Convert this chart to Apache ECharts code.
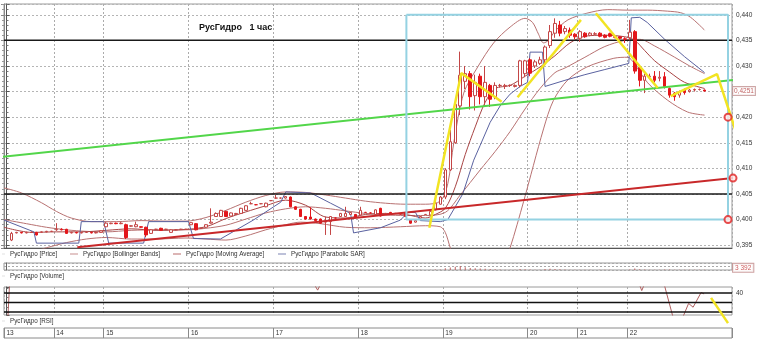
<!DOCTYPE html>
<html><head><meta charset="utf-8">
<script src="https://cdn.jsdelivr.net/npm/echarts@6/dist/echarts.min.js"></script>
<style>html,body{margin:0;padding:0;background:#fff}#c{width:758px;height:341px}</style>
</head><body><div id="c"></div><script>
// ---------- tick / category labels ----------
const dayLabels = ['13','14','15','16','17','18','19','20','21','22'];
const emptySlots = 5;
// ---------- candles: [open, close, low, high] per hour, one array per day ----------
const day13 = ['-',
 [0.3960,0.3973,0.3958,0.3976],[0.3974,0.3975,0.3973,0.3976],[0.3975,0.3974,0.3973,0.3976],
 [0.3974,0.3975,0.3973,0.3976],[0.3975,0.3975,0.3974,0.3977],[0.3975,0.3970,0.3969,0.3976],
 [0.3975,0.3976,0.3974,0.3977],[0.3976,0.3977,0.3975,0.3978],[0.3977,0.3977,0.3976,0.3978]];
const day14 = [
 [0.3980,0.3981,0.3978,0.3993],[0.3981,0.3980,0.3979,0.3983],[0.3981,0.3973,0.3972,0.3982],
 [0.3974,0.3975,0.3973,0.3976],[0.3975,0.3974,0.3973,0.3976],[0.3974,0.3975,0.3973,0.3976],
 [0.3975,0.3975,0.3974,0.3977],[0.3975,0.3974,0.3973,0.3976],[0.3974,0.3975,0.3973,0.3976],
 [0.3975,0.3978,0.3974,0.3979]];
const day15 = [
 [0.3986,0.3993,0.3985,0.3995],[0.3992,0.3993,0.3991,0.3994],[0.3993,0.3992,0.3991,0.3994],
 [0.3992,0.3993,0.3991,0.3995],[0.3990,0.3965,0.3962,0.3992],[0.3987,0.3988,0.3986,0.3989],
 [0.3986,0.3990,0.3985,0.3996],[0.3986,0.3985,0.3984,0.3987],[0.3985,0.3970,0.3966,0.3986],
 [0.3973,0.3980,0.3972,0.3981],[0.3981,0.3981,0.3980,0.3982],[0.3983,0.3979,0.3978,0.3984],
 [0.3981,0.3981,0.3980,0.3982],[0.3975,0.3980,0.3974,0.3981],[0.3980,0.3980,0.3979,0.3981],
 [0.3981,0.3981,0.3980,0.3982],[0.3981,0.3981,0.3980,0.3982]];
const day16 = [
 [0.3990,0.3994,0.3989,0.3995],[0.3992,0.3980,0.3979,0.3993],[0.3983,0.3983,0.3982,0.3984],
 [0.3985,0.3990,0.3984,0.3991],[0.3993,0.3995,0.3992,0.4022],[0.4006,0.4012,0.4005,0.4014],
 [0.4006,0.4018,0.4005,0.4019],[0.4016,0.4006,0.4005,0.4017],[0.4007,0.4013,0.4006,0.4014],
 [0.4010,0.4012,0.4009,0.4013],[0.4012,0.4022,0.4011,0.4023],[0.4018,0.4027,0.4017,0.4028],
 [0.4031,0.4031,0.4030,0.4035],[0.4029,0.4029,0.4028,0.4030],[0.4031,0.4031,0.4030,0.4032],
 [0.4025,0.4032,0.4024,0.4033],[0.4037,0.4037,0.4036,0.4038]];
const day17 = [
 [0.4042,0.4042,0.4041,0.4048],[0.4042,0.4042,0.4041,0.4043],[0.4042,0.4045,0.4041,0.4046],
 [0.4044,0.4025,0.4024,0.4045],[0.4025,0.4020,0.4019,0.4026],[0.4020,0.4006,0.4005,0.4021],
 [0.4006,0.4001,0.4000,0.4007],[0.4005,0.4001,0.4000,0.4024],[0.4001,0.3998,0.3997,0.4002],
 [0.4001,0.3993,0.3992,0.4002],[0.3995,0.3997,0.3970,0.4006],[0.3996,0.4006,0.3970,0.4007],
 [0.4003,0.4003,0.4002,0.4004],[0.4006,0.4012,0.4005,0.4013],[0.4006,0.4012,0.4005,0.4025],
 [0.4010,0.4014,0.4009,0.4015],[0.4010,0.4004,0.4003,0.4011]];
const day18 = [
 [0.4009,0.4018,0.4008,0.4025],[0.4014,0.4014,0.4013,0.4015],[0.4013,0.4013,0.4012,0.4014],
 [0.4010,0.4019,0.4009,0.4020],[0.4022,0.4007,0.4006,0.4023],[0.4010,0.4012,0.4009,0.4013],
 [0.4014,0.4010,0.4009,0.4015],[0.4012,0.4012,0.4011,0.4013],[0.4011,0.4011,0.4010,0.4012],
 [0.4014,0.4006,0.4005,0.4015],[0.3999,0.3993,0.3992,0.4000],[0.3995,0.3998,0.3994,0.3999],
 [0.4003,0.4006,0.4002,0.4007],[0.4010,0.4010,0.4009,0.4011],[0.4009,0.4016,0.4008,0.4017],
 [0.4019,0.4032,0.4018,0.4038],[0.4030,0.4044,0.4029,0.4046]];
const day19 = [
 [0.4044,0.4097,0.4040,0.4100],[0.4097,0.4152,0.4095,0.4175],[0.4150,0.4225,0.4148,0.4239],
 [0.4222,0.4282,0.4204,0.4328],[0.4270,0.4285,0.4255,0.4300],[0.4285,0.4240,0.4215,0.4290],
 [0.4242,0.4268,0.4213,0.4283],[0.4280,0.4240,0.4225,0.4285],[0.4240,0.4268,0.4222,0.4300],
 [0.4262,0.4235,0.4220,0.4265],[0.4240,0.4262,0.4235,0.4268],[0.4262,0.4262,0.4258,0.4265],
 [0.4260,0.4262,0.4255,0.4265],[0.4262,0.4262,0.4259,0.4264],[0.4260,0.4262,0.4258,0.4264],
 [0.4262,0.4310,0.4258,0.4312],[0.4285,0.4310,0.4278,0.4312]];
const day20 = [
 [0.4312,0.4286,0.4280,0.4315],[0.4300,0.4308,0.4296,0.4312],[0.4305,0.4312,0.4302,0.4318],
 [0.4312,0.4337,0.4300,0.4340],[0.4340,0.4367,0.4335,0.4380],[0.4364,0.4383,0.4355,0.4393],
 [0.4380,0.4364,0.4358,0.4388],[0.4367,0.4373,0.4362,0.4378],[0.4370,0.4360,0.4355,0.4375],
 [0.4362,0.4357,0.4352,0.4364]];
const day21 = [
 [0.4354,0.4367,0.4347,0.4370],[0.4364,0.4357,0.4355,0.4366],[0.4360,0.4364,0.4358,0.4366],
 [0.4362,0.4363,0.4360,0.4366],[0.4364,0.4358,0.4356,0.4366],[0.4360,0.4356,0.4354,0.4362],
 [0.4363,0.4358,0.4356,0.4365],[0.4357,0.4356,0.4354,0.4358],[0.4357,0.4354,0.4352,0.4358],
 [0.4353,0.4352,0.4345,0.4356]];
const day22 = [
 [0.4355,0.4366,0.4350,0.4390],[0.4367,0.4290,0.4285,0.4370],[0.4297,0.4272,0.4260,0.4300],
 [0.4272,0.4280,0.4247,0.4285],[0.4279,0.4280,0.4275,0.4285],[0.4280,0.4272,0.4268,0.4290],
 [0.4276,0.4278,0.4270,0.4290],[0.4279,0.4260,0.4256,0.4288],[0.4256,0.4243,0.4238,0.4258],
 [0.4247,0.4240,0.4232,0.4249],[0.4243,0.4250,0.4238,0.4252],[0.4254,0.4248,0.4244,0.4256],
 [0.4250,0.4253,0.4248,0.4255],[0.4253,0.4254,0.4250,0.4256],[0.4254,0.4254,0.4252,0.4256],
 [0.4253,0.4251,0.4250,0.4254]];
const lastPrice = 0.4251;
// ---------- volume per hour ----------
const volumes = [
 0,2100,1500,1200,900,1100,2500,1300,1000,900,
 3500,1800,2600,1200,900,1000,800,900,1100,1400,
 4200,1500,1200,1000,6500,1800,2500,1200,5200,2600,1300,1700,1100,1900,900,800,1000,
 3800,4600,1300,2200,7200,5600,4800,3900,2700,1500,4100,3600,2200,1400,1200,2300,1600,
 5200,2100,2600,9800,4500,7600,3200,5100,2100,4300,6900,5800,1800,3100,3300,1500,2800,
 3600,1700,1300,2900,5400,1600,2200,1200,1100,3600,4900,2100,3300,1700,3100,8200,9500,
 38000,52000,71000,88000,61000,42000,36000,33000,29000,22000,15000,9000,6000,5000,4000,21000,14000,
 12000,8000,7500,19000,26000,24000,15000,9000,7000,5000,
 6000,4000,3500,2500,3000,2800,3200,2600,2400,2200,
 9000,34000,18000,12000,5000,6000,4000,9000,11000,8000,6000,5000,4000,3800,3500,3392];
const lastVolume = 3392;
// ---------- indicators: [candle index, value] ----------
const bbUpper = [[-0.5,0.4062],[3,0.4052],[7,0.4033],[10,0.4016],[13,0.4003],[17,0.3996],[22,0.3996],[27,0.3998],[32,0.3997],[36,0.3997],[40,0.4004],[44,0.4018],[48,0.4034],[52,0.4047],[56,0.4054],[60,0.4053],[64,0.4048],[68,0.4042],[72,0.4036],[76,0.4032],[80,0.4030],[84,0.4030],[87,0.4036],[88.5,0.4070],[89.7,0.4150],[91.7,0.4247],[94.5,0.4298],[97.7,0.4345],[101,0.4376],[104,0.4393],[105.5,0.4385],[106.7,0.4362],[107.7,0.4345],[108.7,0.4350],[110,0.4368],[112.6,0.4390],[116.4,0.4403],[120.6,0.4410],[124.6,0.4409],[128.6,0.4409],[132.6,0.4407],[135.2,0.4404],[137.2,0.4395],[140,0.4370]];
const bbMiddle = [[-0.5,0.4000],[4,0.3992],[8,0.3985],[12,0.3980],[16,0.3977],[20,0.3976],[25,0.3979],[30,0.3980],[36,0.3980],[40,0.3983],[44,0.3989],[48,0.4001],[52,0.4013],[56,0.4021],[60,0.4025],[64,0.4022],[68,0.4017],[72,0.4012],[76,0.4009],[80,0.4008],[84,0.4008],[88,0.4014],[91,0.4048],[95,0.4097],[98,0.4133],[101,0.4172],[104,0.4216],[107,0.4256],[110,0.4287],[112,0.4296],[116,0.4317],[120,0.4338],[124,0.4350],[127,0.4352],[130,0.4339],[134,0.4317],[137,0.4300],[140,0.4285]];
const bbLower = [[-0.5,0.3938],[4,0.3935],[8,0.3945],[12,0.3955],[16,0.3962],[20,0.3965],[25,0.3962],[30,0.3962],[36,0.3964],[40,0.3962],[44,0.3960],[48,0.3968],[52,0.3980],[56,0.3990],[59,0.3995],[63,0.3992],[68,0.3985],[73,0.3984],[79,0.3986],[84,0.3988],[87,0.3986],[88,0.3975],[89,0.3945],[90,0.3920],[92,0.3890],[96,0.3880],[100,0.3925],[101,0.3945],[103.7,0.4035],[107.7,0.4177],[109.7,0.4233],[112.6,0.4273],[116.4,0.4298],[121.8,0.4315],[124.6,0.4317],[125.8,0.4306],[128.6,0.4267],[132.6,0.4233],[136.6,0.4210],[140,0.4204]];
const movingAvg = [[-0.5,0.3985],[5,0.3975],[10,0.3976],[15,0.3976],[20,0.3979],[25,0.3982],[30,0.3979],[35,0.3980],[40,0.3986],[44,0.4002],[48,0.4015],[52,0.4027],[56,0.4038],[60,0.4028],[64,0.4005],[68,0.4003],[72,0.4010],[76,0.4012],[80,0.4010],[84,0.4003],[86,0.4010],[88,0.4022],[90,0.4064],[92,0.4127],[94,0.4181],[96,0.4229],[98,0.4256],[101,0.4262],[104,0.4280],[107,0.4298],[110,0.4320],[113,0.4345],[116,0.4358],[120,0.4360],[124,0.4357],[126,0.4350],[128,0.4330],[130,0.4310],[133,0.4288],[136,0.4268],[140,0.4256]];
const parabolicSar = [[-0.5,0.3999],[5.5,0.3976],[6,0.3954],[14.5,0.3954],[15,0.3996],[19.5,0.3996],[20.5,0.3954],[27.5,0.3954],[28.5,0.3996],[36.5,0.3996],[37.5,0.3963],[42.9,0.3962],[49.5,0.3999],[55,0.4034],[56,0.4054],[61,0.4052],[65,0.4032],[69,0.4012],[69.6,0.3974],[75,0.3984],[79,0.3999],[80.5,0.4014],[82,0.4014],[83,0.3998],[87,0.3996],[88.5,0.4000],[90,0.4025],[91.5,0.4050],[93.7,0.4116],[95,0.4145],[97,0.4190],[99,0.4222],[101,0.4245],[103,0.4260],[104.5,0.4268],[105,0.4327],[107.5,0.4327],[108,0.4260],[112,0.4272],[116,0.4283],[120,0.4293],[124.8,0.4305],[125.3,0.4394],[127,0.4395],[128.5,0.4385],[132,0.4352],[136,0.4318],[140,0.4287]];
const rsi = [[0.2,5],[0.8,70],[60.5,60],[62.4,43],[64,60],[126.5,55],[127.4,42.5],[128.4,55],[131.6,55],[133.7,14],[134.6,12],[135.6,14],[136.8,29],[137.7,25],[139.3,40.5],[139.9,39]];
// ---------- drawn annotations: [candle index, price] ----------
const levels = [0.435, 0.405];
const greenTrend = [[-1.3,0.4122],[147.3,0.4274]];
const redTrend = [[14.2,0.3946],[145.7,0.4081]];
const targetBox = [[80.2,0.4400],[144.7,0.4400],[144.7,0.4000],[80.2,0.4000],[80.2,0.4400]];
const targetMarks = [[144.7,0.4200],[145.7,0.4081],[144.7,0.4000]];
const waveLines = [
 [[84.8,0.3984],[91.2,0.4286],[99.3,0.4230]],
 [[102.5,0.4239],[115.2,0.4390]],
 [[118.2,0.4403],[130.6,0.4257]],
 [[133.2,0.4241],[142.5,0.4284],[149.7,0.4071]]];
const rsiLevels = [40, 30, 20];
const rsiWave = [[141.3,34.9],[144.7,8.2]];

// ---------- build ----------
const days = [day13,day14,day15,day16,day17,day18,day19,day20,day21,day22];
const categories = [], dayStarts = [], candles = [];
days.forEach((d, k) => { dayStarts.push(categories.length); d.forEach((c, j) => { categories.push(dayLabels[k] + '/' + j); candles.push(c); }); });
for (let e = 0; e < emptySlots; e++) { categories.push('e' + e); candles.push('-'); }
const N = categories.length;
const xL = -0.5, xR = N - 0.5;
const volData = volumes.concat(new Array(emptySlots).fill('-'));
const isDayStart = (idx) => dayStarts.indexOf(idx) >= 0;
const yMin = 0.39445, yMax = 0.4421;
const font = 'Liberation Sans, Arial, sans-serif';
const priceFmt = (v) => {
  if (Math.abs(v * 200 - Math.round(v * 200)) > 1e-6) return '';
  if (Math.abs(v - 0.425) < 1e-7) return '';
  return v.toFixed(3).replace('.', ',');
};
const lineSeries = (name, data, color, extra) => Object.assign({
  type: 'line', name: name, xAxisIndex: 1, yAxisIndex: 0, data: data, showSymbol: false, symbol: 'none',
  lineStyle: { color: color, width: 1 }, itemStyle: { color: color }, silent: true, z: 3, animation: false
}, extra || {});
const dash = 'path://M0,0H10V1H0Z';
const legendBase = (left, top, name, small) => ({
  left: left, top: top, padding: 0, itemWidth: small ? 3 : 8, itemHeight: 1, selectedMode: false,
  icon: dash, textStyle: { fontSize: 6.3, color: '#333', fontFamily: font },
  data: [small ? { name: name, itemStyle: { color: '#999', borderColor: '#999', borderWidth: 0 }, lineStyle: { color: '#999' } } : name]
});
const boxLabel = (text, color, border) => ({
  show: true, position: 'right', distance: 1, formatter: text, fontSize: 6.5, color: color, fontFamily: font,
  backgroundColor: '#fff', borderColor: border, borderWidth: 1, padding: [1, 1, 0, 1]
});
const series = [
  { type: 'candlestick', name: 'РусГидро [Price]', xAxisIndex: 0, yAxisIndex: 0, data: candles, barWidth: 3, z: 4,
    itemStyle: { color: '#ffffff', color0: '#e3161b', borderColor: '#c44646', borderColor0: '#e3161b', borderWidth: 1 } },
  lineSeries('РусГидро [Bollinger Bands]', bbUpper, '#b87272', { smooth: 0.3 }),
  lineSeries('РусГидро [Bollinger Bands]', bbMiddle, '#b87272', { smooth: 0.3 }),
  lineSeries('РусГидро [Bollinger Bands]', bbLower, '#b87272', { smooth: 0.3 }),
  lineSeries('РусГидро [Moving Average]', movingAvg, '#a84444', { smooth: 0.3 }),
  lineSeries('РусГидро [Parabolic SAR]', parabolicSar, '#5a62a0')
].concat(levels.map((v, k) => lineSeries('level' + k, [[xL, v], [xR, v]], '#1a1a1a', { lineStyle: { color: '#1a1a1a', width: 1.5 }, z: 4 })))
 .concat([
  lineSeries('green', greenTrend, '#52d64a', { lineStyle: { color: '#52d64a', width: 2 }, clip: false, z: 5 }),
  lineSeries('redtrend', redTrend, '#c8282a', { lineStyle: { color: '#c8282a', width: 2 }, clip: false, z: 5 }),
  lineSeries('box', targetBox, '#94d2e2', { lineStyle: { color: '#94d2e2', width: 2 }, clip: false, z: 5 }),
  { type: 'scatter', name: 'marks', xAxisIndex: 1, yAxisIndex: 0, data: targetMarks, symbol: 'circle', symbolSize: 7,
    itemStyle: { color: '#ffe8e8', borderColor: '#e02020', borderWidth: 2 }, clip: false, silent: true, z: 7 },
  { type: 'scatter', name: 'lastPrice', xAxisIndex: 1, yAxisIndex: 0, data: [[xR, lastPrice]], symbolSize: 0.1,
    itemStyle: { color: 'rgba(0,0,0,0)' }, clip: false, silent: true, z: 8,
    label: boxLabel(String(lastPrice).replace('.', ','), '#b03a3a', '#c09090') }
 ])
 .concat(waveLines.map((w, k) => lineSeries('wave' + k, w, '#f2e422', { lineStyle: { color: '#f2e422', width: 2.5 }, clip: false, z: 6 })))
 .concat([
  { type: 'bar', name: 'РусГидро [Volume]', xAxisIndex: 2, yAxisIndex: 2, data: volData, barWidth: 1,
    itemStyle: { color: '#c06060' }, silent: true },
  { type: 'scatter', name: 'lastVolume', xAxisIndex: 6, yAxisIndex: 2, data: [[xR, lastVolume]], symbolSize: 0.1,
    itemStyle: { color: 'rgba(0,0,0,0)' }, clip: false, silent: true, z: 8,
    label: Object.assign(boxLabel('3 392', '#c03030', '#c08a8a'), { offset: [0, -2], padding: [1, 2, 0, 2] }) },
  { type: 'line', name: 'РусГидро [RSI]', xAxisIndex: 3, yAxisIndex: 3, data: rsi, showSymbol: false, symbol: 'none',
    lineStyle: { color: '#b06060', width: 1 }, itemStyle: { color: '#b06060' }, silent: true, z: 3 }
 ])
 .concat(rsiLevels.map((v, k) => ({ type: 'line', name: 'rsiLevel' + k, xAxisIndex: 3, yAxisIndex: 3, data: [[xL, v], [xR, v]],
    showSymbol: false, symbol: 'none', lineStyle: { color: '#111', width: 1.5 }, silent: true, z: 4 })))
 .concat([
  { type: 'line', name: 'rsiwave', xAxisIndex: 3, yAxisIndex: 3, data: rsiWave, showSymbol: false, symbol: 'none',
    lineStyle: { color: '#f2e422', width: 2.5 }, clip: false, silent: true, z: 6 }
 ]);

const option = {
  animation: false, backgroundColor: '#ffffff',
  textStyle: { fontFamily: font },
  title: { text: 'РусГидро   1 час', left: 199, top: 23, padding: 0, textStyle: { fontSize: 9, fontWeight: 'bold', color: '#111', fontFamily: font } },
  legend: [
    legendBase(2, 251, 'РусГидро [Price]', true),
    legendBase(70, 251, 'РусГидро [Bollinger Bands]'),
    legendBase(173, 251, 'РусГидро [Moving Average]'),
    legendBase(278, 251, 'РусГидро [Parabolic SAR]'),
    legendBase(2, 273, 'РусГидро [Volume]', true),
    legendBase(2, 318, 'РусГидро [RSI]', true)
  ],
  grid: [
    { left: 4, right: 26, top: 4, height: 244, show: true, borderColor: '#9a9a9a', borderWidth: 1 },
    { left: 4, right: 26, top: 263, height: 7, show: true, borderColor: '#9a9a9a', borderWidth: 1 },
    { left: 4, right: 26, top: 287, height: 28, show: true, borderColor: '#9a9a9a', borderWidth: 1 },
    { left: 4, right: 26, top: 328, height: 10, show: true, borderColor: '#8a8a8a', borderWidth: 1 }
  ],
  xAxis: [
    { type: 'category', gridIndex: 0, data: categories, boundaryGap: true,
      axisLine: { show: true, lineStyle: { color: '#555' } }, axisTick: { show: false }, axisLabel: { show: false },
      splitLine: { show: true, interval: isDayStart, lineStyle: { color: '#ababab', type: [2, 2] } } },
    { type: 'value', gridIndex: 0, min: xL, max: xR, show: false },
    { type: 'category', gridIndex: 1, data: categories, show: false },
    { type: 'value', gridIndex: 2, min: xL, max: xR, show: false },
    { type: 'category', gridIndex: 2, data: categories, boundaryGap: true,
      axisLine: { show: false }, axisTick: { show: false }, axisLabel: { show: false },
      splitLine: { show: true, interval: isDayStart, lineStyle: { color: '#ababab', type: [2, 2] } } },
    { type: 'category', gridIndex: 3, data: categories, boundaryGap: true, position: 'top',
      axisLine: { show: false }, axisTick: { show: false },
      axisLabel: { show: true, inside: true, interval: isDayStart, align: 'left', margin: 2, fontSize: 6.5, color: '#333', fontFamily: font,
        formatter: (v, idx) => dayLabels[dayStarts.indexOf(idx)] },
      splitLine: { show: true, interval: isDayStart, lineStyle: { color: '#8a8a8a', width: 1 } } },
    { type: 'value', gridIndex: 1, min: xL, max: xR, show: false }
  ],
  yAxis: [
    { type: 'value', gridIndex: 0, position: 'right', min: yMin, max: yMax, splitNumber: 9,
      axisLine: { show: true, lineStyle: { color: '#555' } }, axisTick: { show: true, length: 3, lineStyle: { color: '#555' } },
      minorTick: { show: true, splitNumber: 5, length: 2, lineStyle: { color: '#777' } },
      axisLabel: { fontSize: 6.5, color: '#333', margin: 4, formatter: priceFmt, fontFamily: font },
      splitLine: { show: true, lineStyle: { color: '#b5b5b5', type: [2, 2] } } },
    { type: 'value', gridIndex: 0, position: 'left', min: yMin, max: yMax, splitNumber: 9,
      axisLine: { show: true, lineStyle: { color: '#888' } }, axisTick: { show: true, length: 3, lineStyle: { color: '#888' } },
      minorTick: { show: true, splitNumber: 5, length: 2, lineStyle: { color: '#999' } },
      axisLabel: { show: false }, splitLine: { show: false } },
    { type: 'value', gridIndex: 1, position: 'right', min: 0, max: 150000, interval: 75000,
      axisLine: { show: true, lineStyle: { color: '#666' } }, axisTick: { show: false }, axisLabel: { show: false },
      splitLine: { show: true, lineStyle: { color: '#aaa', type: [2, 2] } } },
    { type: 'value', gridIndex: 2, position: 'right', min: 16.8, max: 46.3, splitNumber: 3,
      axisLine: { show: true, lineStyle: { color: '#555' } }, axisTick: { show: true, length: 3, lineStyle: { color: '#555' } },
      minorTick: { show: true, splitNumber: 2, length: 2, lineStyle: { color: '#777' } },
      axisLabel: { fontSize: 6.5, color: '#333', margin: 4, fontFamily: font, formatter: (v) => (v === 40 ? '40' : '') },
      splitLine: { show: false } },
    { type: 'value', gridIndex: 3, show: false }
  ],
  series: series
};
const chart = echarts.init(document.getElementById('c'), null, { renderer: 'canvas' });
chart.setOption(option);
</script></body></html>
